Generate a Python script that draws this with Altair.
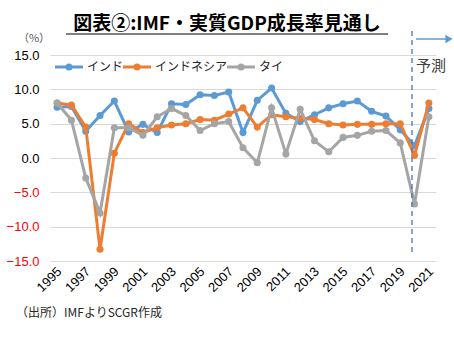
import altair as alt
import pandas as pd

years = list(range(1995, 2022))
india = [7.4, 7.5, 3.9, 6.2, 8.3, 3.8, 4.9, 3.7, 7.9, 7.8,
         9.2, 9.1, 9.6, 3.7, 8.4, 10.2, 6.5, 5.3, 6.3, 7.3,
         7.9, 8.3, 6.8, 6.1, 4.1, 1.8, 7.2]
indonesia = [8.0, 7.7, 4.5, -13.3, 0.7, 5.0, 3.7, 4.4, 4.8, 5.0,
             5.6, 5.5, 6.4, 7.3, 4.5, 6.3, 6.0, 5.8, 5.6, 5.0,
             4.8, 4.9, 4.9, 5.0, 5.0, 0.4, 8.0]
thailand = [8.0, 5.5, -2.9, -8.0, 4.4, 4.4, 3.3, 6.0, 7.2, 6.2,
            4.0, 5.0, 5.3, 1.5, -0.7, 7.3, 0.6, 7.1, 2.5, 0.9,
            3.0, 3.3, 3.9, 4.0, 2.2, -6.7, 6.0]

series_names = ["インド", "インドネシア", "タイ"]
series_values = [india, indonesia, thailand]
series_colors = ["#5B9BD5", "#ED7D31", "#A5A5A5"]
x_tick_years = list(range(1995, 2022, 2))
y_ticks = [-15, -10, -5, 0, 5, 10, 15]
forecast_start = 2019.82

title_text = "図表②:IMF・実質GDP成長率見通し"
unit_text = "（%）"
forecast_text = "予測"
source_text = "（出所）IMFよりSCGR作成"

JP = "Noto Sans CJK JP"
LAT = "Liberation Sans"

x_scale = alt.Scale(domain=[1994.5, 2021.5], nice=False, zero=False)
y_scale = alt.Scale(domain=[-15, 15], nice=False)

x_axis = alt.Axis(values=x_tick_years, format="d", labelAngle=-45, labelAlign="right",
                  labelBaseline="middle", grid=False, ticks=False, domain=False,
                  labelPadding=8, labelOffset=2, title=None, labelFontSize=13, labelFont=LAT,
                  labelColor="#000000", labelOverlap=False, labelFlush=False)
y_axis = alt.Axis(values=y_ticks, format=".1f", grid=True, gridColor="#d9d9d9",
                  gridWidth=1, ticks=False, domain=False, labelPadding=11, title=None,
                  labelFontSize=13, labelFont=LAT, labelOverlap=False, labelFlush=False,
                  labelColor={"condition": {"test": "datum.value < 0", "value": "#FF0000"},
                              "value": "#000000"})

base_df = pd.DataFrame({"year": years})
layers = []

# axes / grid carrier
layers.append(
    alt.Chart(base_df).mark_point(opacity=0).encode(
        x=alt.X("year:Q", scale=x_scale, axis=x_axis),
        y=alt.Y("v:Q", scale=y_scale, axis=y_axis),
    ).transform_calculate(v="0")
)

for name, vals, col in zip(series_names, series_values, series_colors):
    df = pd.DataFrame({"year": years, "value": vals, "series": name})
    layers.append(
        alt.Chart(df).mark_line(color=col, strokeWidth=3,
                                point=alt.OverlayMarkDef(color=col, filled=True, size=50, opacity=1)).encode(
            x=alt.X("year:Q", scale=x_scale, axis=x_axis),
            y=alt.Y("value:Q", scale=y_scale, axis=y_axis),
        )
    )

one = pd.DataFrame({"a": [0]})

# forecast dashed line
layers.append(
    alt.Chart(one).mark_rule(color="#4472C4", strokeDash=[5, 4], strokeWidth=1.3).encode(
        x=alt.X(datum=forecast_start, type="quantitative", scale=x_scale, axis=x_axis),
        y=alt.value(-24), y2=alt.value(199)
    )
)
# arrow
layers.append(
    alt.Chart(one).mark_rule(color="#5B9BD5", strokeWidth=1.5).encode(
        x=alt.value(366), x2=alt.value(396), y=alt.value(-16)
    )
)
layers.append(
    alt.Chart(one).mark_point(shape="triangle-right", filled=True, color="#5B9BD5",
                              size=70, opacity=1).encode(
        x=alt.value(399), y=alt.value(-16)
    )
)
layers.append(
    alt.Chart(one).mark_text(text=forecast_text, font=JP, fontSize=15, color="#404040",
                             align="left", baseline="middle").encode(
        x=alt.value(366), y=alt.value(11)
    )
)

# legend
leg_x = [5, 73, 177]
for (name, col, lx) in zip(series_names, series_colors, leg_x):
    layers.append(
        alt.Chart(one).mark_rule(color=col, strokeWidth=3).encode(
            x=alt.value(lx), x2=alt.value(lx + 28), y=alt.value(12)
        )
    )
    layers.append(
        alt.Chart(one).mark_point(filled=True, color=col, size=50, opacity=1).encode(
            x=alt.value(lx + 14), y=alt.value(12)
        )
    )
    layers.append(
        alt.Chart(one).mark_text(text=name, font=JP, fontSize=12, color="#262626",
                                 align="left", baseline="middle").encode(
            x=alt.value(lx + 32), y=alt.value(12)
        )
    )

# title, underline, unit, source
layers.append(
    alt.Chart(one).mark_text(text=title_text, font=JP, fontSize=19, fontWeight="bold",
                             color="#000000", align="center", baseline="middle").encode(
        x=alt.value(177), y=alt.value(-31)
    )
)
layers.append(
    alt.Chart(one).mark_rule(color="#000000", strokeWidth=1.2).encode(
        x=alt.value(16), x2=alt.value(338), y=alt.value(-21)
    )
)
layers.append(
    alt.Chart(one).mark_text(text=unit_text, font=JP, fontSize=11, color="#595959",
                             align="center", baseline="middle").encode(
        x=alt.value(-16), y=alt.value(-16)
    )
)
layers.append(
    alt.Chart(one).mark_text(text=source_text, font=JP, fontSize=12, color="#262626",
                             align="left", baseline="middle").encode(
        x=alt.value(-34), y=alt.value(258)
    )
)

chart = alt.layer(*layers).properties(
    width=386, height=206,
    autosize=alt.AutoSizeParams(type="none"),
    padding={"left": 50, "top": 55, "right": 18, "bottom": 81},
    background="white",
).configure_view(stroke=None).configure_axis(labelOverlap=False)

chart.save("out.html", embed_options={"renderer": "svg", "actions": False})
